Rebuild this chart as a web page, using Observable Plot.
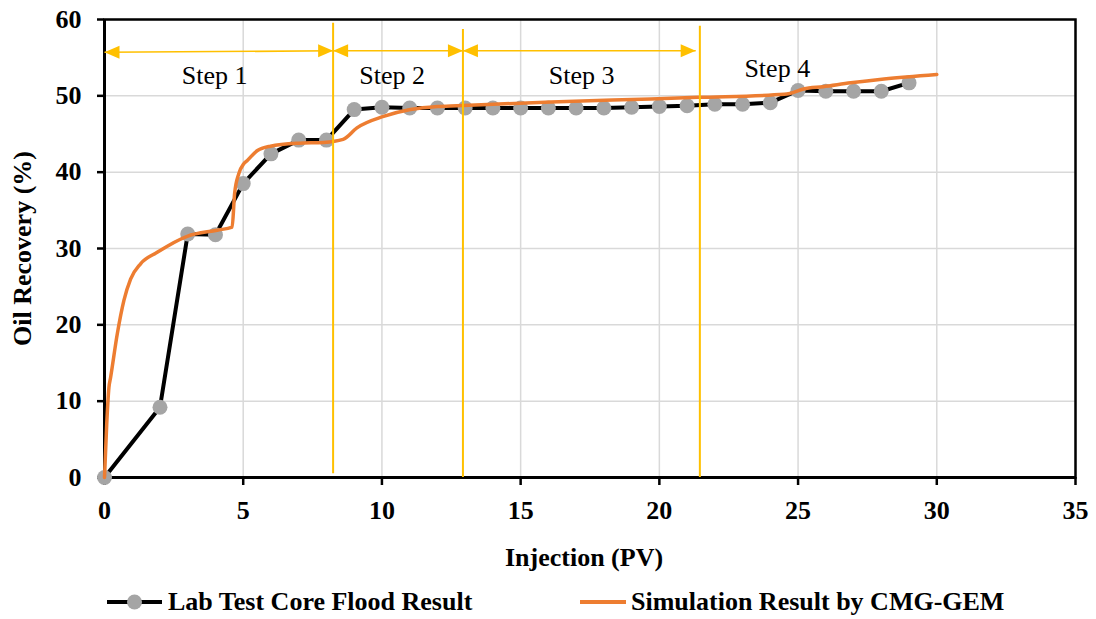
<!DOCTYPE html>
<html>
<head>
<meta charset="utf-8">
<script src="https://cdn.jsdelivr.net/npm/d3@7"></script>
<script src="https://cdn.jsdelivr.net/npm/@observablehq/plot@0.6"></script>
<style>
  html, body { margin: 0; padding: 0; background: #fff; }
  #wrap { position: relative; width: 1096px; height: 619px; font-family: "Liberation Serif", "Times New Roman", serif; }
  #legend { position: absolute; left: 0; top: 584px; width: 1096px; height: 36px; font-weight: bold; font-size: 26px; color: #000; }
  .item { position: absolute; top: 0; height: 36px; display: flex; align-items: center; white-space: nowrap; }
  .item svg { display: block; margin-right: 5px; }
</style>
</head>
<body>
<div id="wrap">
  <div id="chart"></div>
  <div id="legend"></div>
</div>
<script>
// Laboratory core flood: injected pore volumes and measured oil recovery (%)
const labPV = [0, 2, 3, 4, 5, 6, 7, 8, 9, 10, 11, 12, 13, 14, 15, 16, 17, 18, 19, 20, 21, 22, 23, 24, 25, 26, 27, 28, 29];
const labRecovery = [0, 9.2, 31.9, 31.8, 38.5, 42.4, 44.2, 44.2, 48.2, 48.5, 48.4, 48.4, 48.4, 48.4, 48.4, 48.4, 48.4, 48.4, 48.5, 48.6, 48.7, 48.9, 48.9, 49.1, 50.7, 50.6, 50.6, 50.6, 51.7];

// CMG-GEM simulation run
const simPV = [0, 0.08, 0.16, 0.22, 0.46, 0.70, 0.94, 1.30, 1.90, 2.98, 4.06, 4.60, 4.69, 4.84, 5.02, 5.14, 5.50, 5.98, 7.0, 7.9, 8.6, 9.1, 10.06, 11.03, 12.0, 12.7, 16.1, 19.7, 21.4, 24.5, 24.7, 25.2, 25.9, 26.9, 28.1, 30.0];
const simRecovery = [0, 7.0, 11.8, 13.1, 18.8, 23.2, 26.0, 28.0, 29.5, 31.6, 32.4, 32.8, 37.2, 39.8, 41.1, 41.5, 42.8, 43.4, 43.8, 43.9, 44.3, 45.8, 47.3, 48.2, 48.6, 48.7, 49.2, 49.6, 49.8, 50.2, 50.3, 50.9, 51.2, 51.7, 52.2, 52.8];

// Injection step boundaries (PV) and the extent of each divider
const stepBoundaryPV = [8.24, 12.92, 21.46];
const stepBoundaryTop = [59.5, 58.7, 59.1];
const stepBoundaryBottom = [0.5, 0, 0];

// Double-headed span arrows for steps 1-3
const spanStart = [0, 8.24, 12.92];
const spanEnd = [8.24, 12.92, 21.31];
const spanStartY = [55.7, 55.9, 55.9];
const spanEndY = [55.9, 55.9, 55.9];

// Step captions
const stepNames = ["Step 1", "Step 2", "Step 3", "Step 4"];
const stepNameX = [3.97, 10.37, 17.2, 24.25];
const stepNameY = [52.7, 52.7, 52.7, 53.6];

// Axis ticks
const xTicks = [0, 5, 10, 15, 20, 25, 30, 35];
const yTicks = [0, 10, 20, 30, 40, 50, 60];

const seriesNames = ["Lab Test Core Flood Result", "Simulation Result by CMG-GEM"];

const lab = labPV.map((x, i) => ({x, y: labRecovery[i]}));
const sim = simPV.map((x, i) => ({x, y: simRecovery[i]}));
const dividers = stepBoundaryPV.map((x, i) => ({x, y1: stepBoundaryBottom[i], y2: stepBoundaryTop[i]}));
const spans = spanStart.map((x1, i) => ({x1, x2: spanEnd[i], y1: spanStartY[i], y2: spanEndY[i]}));
const steps = stepNames.map((t, i) => ({t, x: stepNameX[i], y: stepNameY[i]}));

const YELLOW = "#ffc000", ORANGE = "#ed7d31", GREY = "#a5a5a5";

// Filled arrowheads whose tip sits on the anchor point
const headRight = {draw(ctx) { ctx.moveTo(0, 0); ctx.lineTo(-15, -6.5); ctx.lineTo(-15, 6.5); ctx.closePath(); }};
const headLeft = {draw(ctx) { ctx.moveTo(0, 0); ctx.lineTo(15, -6.5); ctx.lineTo(15, 6.5); ctx.closePath(); }};

const chart = Plot.plot({
  width: 1096,
  height: 580,
  marginLeft: 104,
  marginRight: 21,
  marginTop: 19,
  marginBottom: 103,
  style: {fontFamily: "'Liberation Serif', 'Times New Roman', serif", fontSize: "26px", color: "#000", background: "#fff"},
  x: {domain: [0, 35]},
  y: {domain: [0, 60]},
  marks: [
    Plot.gridX(xTicks, {stroke: "#d9d9d9", strokeOpacity: 1, strokeWidth: 1.5}),
    Plot.gridY(yTicks, {stroke: "#d9d9d9", strokeOpacity: 1, strokeWidth: 1.5}),
    Plot.frame({stroke: "#000", strokeWidth: 2.5}),
    Plot.axisX({ticks: xTicks, tickSize: 8, tickPadding: 15, strokeWidth: 2.5, label: null, fontWeight: "bold", fontSize: 26}),
    Plot.axisY({ticks: yTicks, tickSize: 7, tickPadding: 16, strokeWidth: 2.5, label: null, fontWeight: "bold", fontSize: 26}),
    Plot.ruleX([0], {stroke: "#000", strokeWidth: 3}),
    Plot.ruleY([0], {stroke: "#000", strokeWidth: 3}),
    Plot.line(lab, {x: "x", y: "y", stroke: "#000", strokeWidth: 4}),
    Plot.dot(lab, {x: "x", y: "y", r: 7.5, fill: GREY, stroke: "none"}),
    Plot.line(sim, {x: "x", y: "y", stroke: ORANGE, strokeWidth: 3.5, curve: "monotone-x"}),
    Plot.ruleX(dividers, {x: "x", y1: "y1", y2: "y2", stroke: YELLOW, strokeWidth: 2}),
    Plot.link(spans, {x1: "x1", y1: "y1", x2: "x2", y2: "y2", stroke: YELLOW, strokeWidth: 1.6}),
    Plot.dot(spans, {x: "x1", y: "y1", symbol: headLeft, fill: YELLOW, stroke: "none"}),
    Plot.dot(spans, {x: "x2", y: "y2", symbol: headRight, fill: YELLOW, stroke: "none"}),
    Plot.text(steps, {x: "x", y: "y", text: "t", fontSize: 26, fill: "#000", textAnchor: "middle", lineAnchor: "middle"}),
    Plot.text(["Injection (PV)"], {frameAnchor: "bottom", dx: -6, dy: 80, fontSize: 26, fontWeight: "bold", fill: "#000", lineAnchor: "middle"}),
    Plot.text(["Oil Recovery (%)"], {frameAnchor: "left", dx: -82, rotate: -90, fontSize: 26, fontWeight: "bold", fill: "#000", textAnchor: "middle", lineAnchor: "middle"})
  ]
});
document.getElementById("chart").appendChild(chart);

// Legend below the plot
const legend = d3.select("#legend");
const labItem = legend.append("div").attr("class", "item").style("left", "106px");
const labSw = labItem.append("svg").attr("width", 57).attr("height", 20);
labSw.append("line").attr("x1", 1).attr("x2", 56).attr("y1", 10).attr("y2", 10).attr("stroke", "#000").attr("stroke-width", 4);
labSw.append("circle").attr("cx", 28.5).attr("cy", 10).attr("r", 7.5).attr("fill", GREY);
labItem.append("span").text(seriesNames[0]);

const simItem = legend.append("div").attr("class", "item").style("left", "580px");
const simSw = simItem.append("svg").attr("width", 46).attr("height", 20);
simSw.append("line").attr("x1", 0).attr("x2", 46).attr("y1", 10).attr("y2", 10).attr("stroke", ORANGE).attr("stroke-width", 4);
simItem.append("span").text(seriesNames[1]);
</script>
</body>
</html>
